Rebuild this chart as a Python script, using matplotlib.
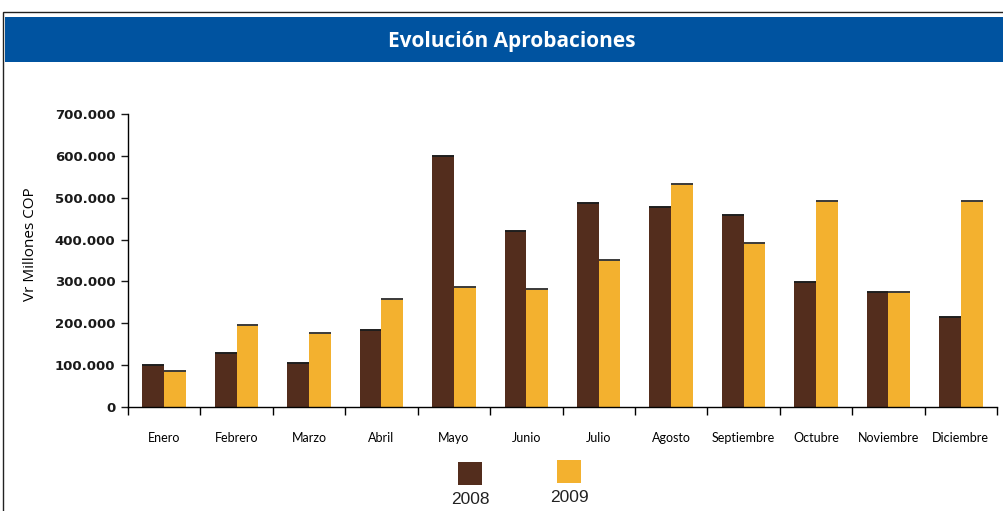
import matplotlib
matplotlib.use("Agg")
import matplotlib.pyplot as plt
from matplotlib.patches import Rectangle
from matplotlib.ticker import FuncFormatter
import numpy as np

months = ["Enero", "Febrero", "Marzo", "Abril", "Mayo", "Junio", "Julio",
          "Agosto", "Septiembre", "Octubre", "Noviembre", "Diciembre"]
v2008 = [101000, 130000, 106000, 184000, 600000, 421000, 488000,
         478000, 459000, 299000, 274000, 215000]
v2009 = [87000, 197000, 177000, 258000, 287000, 282000, 351000,
         533000, 393000, 492000, 274000, 492000]
series_labels = ["2008", "2009"]

brown = "#532D1D"
orange = "#F3B12F"
blue = "#0053A0"

W, H = 1004, 511
fig = plt.figure(figsize=(W / 100, H / 100), dpi=100)

# outer frame
fig.patches.append(Rectangle((3 / W, -0.05), 1.1, 1 - 12 / H + 0.05,
                             transform=fig.transFigure, fill=False,
                             edgecolor="#222222", lw=1.0))
# title banner
fig.patches.append(Rectangle((5 / W, 1 - 62 / H), 1.0, 45 / H,
                             transform=fig.transFigure, facecolor=blue,
                             edgecolor="none"))
fig.text(512 / W, 1 - 42 / H, "Evolución Aprobaciones", color="white",
         ha="center", va="center", fontsize=15, fontweight="bold",
         family="Open Sans")

ax = fig.add_axes([128 / W, 1 - 407 / H, 869 / W, 293 / H])
x = np.arange(len(months))
bw = 0.3
ax.bar(x - bw / 2, v2008, width=bw, color=brown, edgecolor="none")
ax.bar(x + bw / 2, v2009, width=bw, color=orange, edgecolor="none")
ax.hlines(v2008, x - bw, x, color="#1e1e1e", lw=1.4)
ax.hlines(v2009, x, x + bw, color="#3a3a3a", lw=1.4)

ax.set_xlim(-0.5, 11.5)
ax.set_ylim(0, 700000)
ax.set_yticks(np.arange(0, 700001, 100000))
ax.yaxis.set_major_formatter(FuncFormatter(
    lambda v, p: "0" if v == 0 else f"{int(v):,}".replace(",", ".")))
for lab in ax.get_yticklabels():
    lab.set_fontweight("bold")
ax.tick_params(axis="y", labelsize=9.5, length=5, width=1, pad=4,
               colors="#1a1a1a")
ax.set_xticks(np.arange(-0.5, 12, 1))
ax.set_xticklabels([])
ax.set_xticks(x, minor=True)
ax.set_xticklabels(months, minor=True, fontsize=9, family="Lato",
                   va="baseline")
ax.tick_params(axis="x", which="major", length=6, width=1, direction="out")
ax.tick_params(axis="x", which="minor", length=0, pad=25)
for s in ["top", "right"]:
    ax.spines[s].set_visible(False)
ax.spines["left"].set_linewidth(1)
ax.spines["bottom"].set_linewidth(1)
ax.set_ylabel("Vr Millones COP", fontsize=11, family="Open Sans")
ax.yaxis.set_label_coords(-0.104, 0.555)

# legend
fig.patches.append(Rectangle((458 / W, 1 - 485 / H), 24 / W, 23 / H,
                             transform=fig.transFigure, facecolor=brown))
fig.patches.append(Rectangle((557 / W, 1 - 483 / H), 24 / W, 23 / H,
                             transform=fig.transFigure, facecolor=orange))
fig.text(470 / W, 1 - 499 / H, series_labels[0], ha="center", va="center",
         fontsize=12.5, color="#222222", family="Liberation Sans")
fig.text(569 / W, 1 - 497 / H, series_labels[1], ha="center", va="center",
         fontsize=12.5, color="#222222", family="Liberation Sans")

fig.savefig("out.png", dpi=100)
